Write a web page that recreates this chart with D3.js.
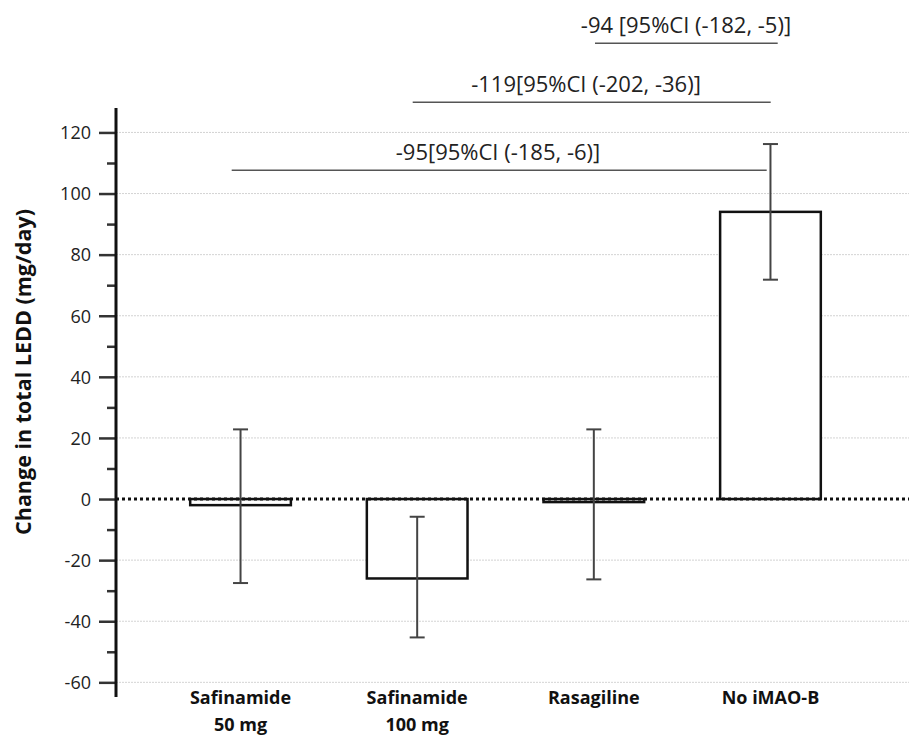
<!DOCTYPE html>
<html>
<head>
<meta charset="utf-8">
<script src="https://cdn.jsdelivr.net/npm/d3@7"></script>
<style>
  body { margin: 0; background: #fff; }
  text { font-family: "Open Sans", "Noto Sans", sans-serif; }
</style>
</head>
<body>
<div id="vis"></div>
<script>
const W = 909, H = 737;

// data
const groups = [["Safinamide", "50 mg"], ["Safinamide", "100 mg"], ["Rasagiline"], ["No iMAO-B"]];
const groupKeys = ["saf50", "saf100", "rasa", "none"];
const means = [-2, -26, -1, 94];
const ciLow = [-27.5, -45.3, -26.3, 71.8];
const ciHigh = [22.8, -5.8, 22.8, 116.2];
const yTicks = [-60, -40, -20, 0, 20, 40, 60, 80, 100, 120];

// pairwise comparisons vs No iMAO-B
const compFrom = ["saf50", "saf100", "rasa"];
const compLabels = ["-95[95%CI (-185, -6)]", "-119[95%CI (-202, -36)]", "-94 [95%CI (-182, -5)]"];

const svg = d3.select("#vis").append("svg")
    .attr("width", W)
    .attr("height", H);

const axisX = 116;

const yScale = d3.scaleLinear()
    .domain([-64.8, 128])
    .range([697, 108]);

const xScale = d3.scaleBand()
    .domain(groupKeys)
    .range([axisX, 895])
    .paddingInner(0.43)
    .paddingOuter(0.42);

// gridlines
svg.append("g")
    .selectAll("line")
    .data(yTicks.filter(d => d !== 0))
    .join("line")
    .attr("x1", axisX)
    .attr("x2", W)
    .attr("y1", d => yScale(d))
    .attr("y2", d => yScale(d))
    .attr("stroke", "#c8c8c8")
    .attr("stroke-width", 0.8)
    .attr("stroke-dasharray", "2 1");

// bars
svg.append("g")
    .selectAll("rect")
    .data(groupKeys)
    .join("rect")
    .attr("x", d => xScale(d))
    .attr("width", xScale.bandwidth())
    .attr("y", (d, i) => yScale(Math.max(0, means[i])))
    .attr("height", (d, i) => Math.abs(yScale(means[i]) - yScale(0)))
    .attr("fill", "#fff")
    .attr("stroke", "#111")
    .attr("stroke-width", 2.5);

// zero line
svg.append("line")
    .attr("x1", axisX)
    .attr("x2", W)
    .attr("y1", yScale(0))
    .attr("y2", yScale(0))
    .attr("stroke", "#111")
    .attr("stroke-width", 3)
    .attr("stroke-dasharray", "3 3");

// error bars
const capW = 15;
const err = svg.append("g")
    .attr("stroke", "#444")
    .attr("stroke-width", 2);

groupKeys.forEach((k, i) => {
    const cx = xScale(k) + xScale.bandwidth() / 2;
    err.append("line")
        .attr("x1", cx).attr("x2", cx)
        .attr("y1", yScale(ciHigh[i])).attr("y2", yScale(ciLow[i]));
    [ciHigh[i], ciLow[i]].forEach(v => {
        err.append("line")
            .attr("x1", cx - capW / 2).attr("x2", cx + capW / 2)
            .attr("y1", yScale(v)).attr("y2", yScale(v));
    });
});

// y axis
const yAxis = svg.append("g")
    .attr("transform", `translate(${axisX},0)`);

yAxis.call(d3.axisLeft(yScale)
        .tickValues(d3.range(-60, 121, 10))
        .tickSize(0)
        .tickFormat(""));
yAxis.select(".domain").remove();

yAxis.append("line")
    .attr("x1", 0).attr("x2", 0)
    .attr("y1", yScale.range()[1]).attr("y2", yScale.range()[0])
    .attr("stroke", "#111")
    .attr("stroke-width", 3);

yAxis.selectAll(".tick line")
    .attr("x2", d => yTicks.includes(d) ? -17 : -9)
    .attr("stroke", "#333")
    .attr("stroke-width", 2.5);

yAxis.selectAll(".tick")
    .filter(d => yTicks.includes(d))
    .append("text")
    .attr("x", -25)
    .attr("dy", "0.35em")
    .attr("text-anchor", "end")
    .attr("fill", "#222")
    .style("font-size", "18px")
    .text(d => d);

svg.append("text")
    .attr("transform", `translate(23,${372}) rotate(-90)`)
    .attr("text-anchor", "middle")
    .attr("dy", "0.35em")
    .style("font-size", "21.5px")
    .style("font-weight", "bold")
    .attr("fill", "#111")
    .text("Change in total LEDD (mg/day)");

// category labels
groupKeys.forEach((k, i) => {
    const t = svg.append("text")
        .attr("x", xScale(k) + xScale.bandwidth() / 2)
        .attr("y", 704)
        .attr("text-anchor", "middle")
        .style("font-size", "18px")
        .style("font-weight", "bold")
        .attr("fill", "#111");
    groups[i].forEach((line, j) => {
        t.append("tspan")
            .attr("x", xScale(k) + xScale.bandwidth() / 2)
            .attr("dy", j === 0 ? 0 : 27)
            .text(line);
    });
});

// comparison brackets
const compLineY = [170.3, 102.3, 43.3];
const compStartX = [231.7, 412.7, 595];
const compEndX = [766.7, 770.7, 777.7];
const compTextX = [498, 586, 686];

compLabels.forEach((lab, i) => {
    svg.append("line")
        .attr("x1", compStartX[i]).attr("x2", compEndX[i])
        .attr("y1", compLineY[i]).attr("y2", compLineY[i])
        .attr("stroke", "#555")
        .attr("stroke-width", 1.5);
    svg.append("text")
        .attr("x", compTextX[i])
        .attr("y", compLineY[i] - 10.5)
        .attr("text-anchor", "middle")
        .style("font-size", "22px")
        .attr("fill", "#222")
        .text(lab);
});
</script>
</body>
</html>
